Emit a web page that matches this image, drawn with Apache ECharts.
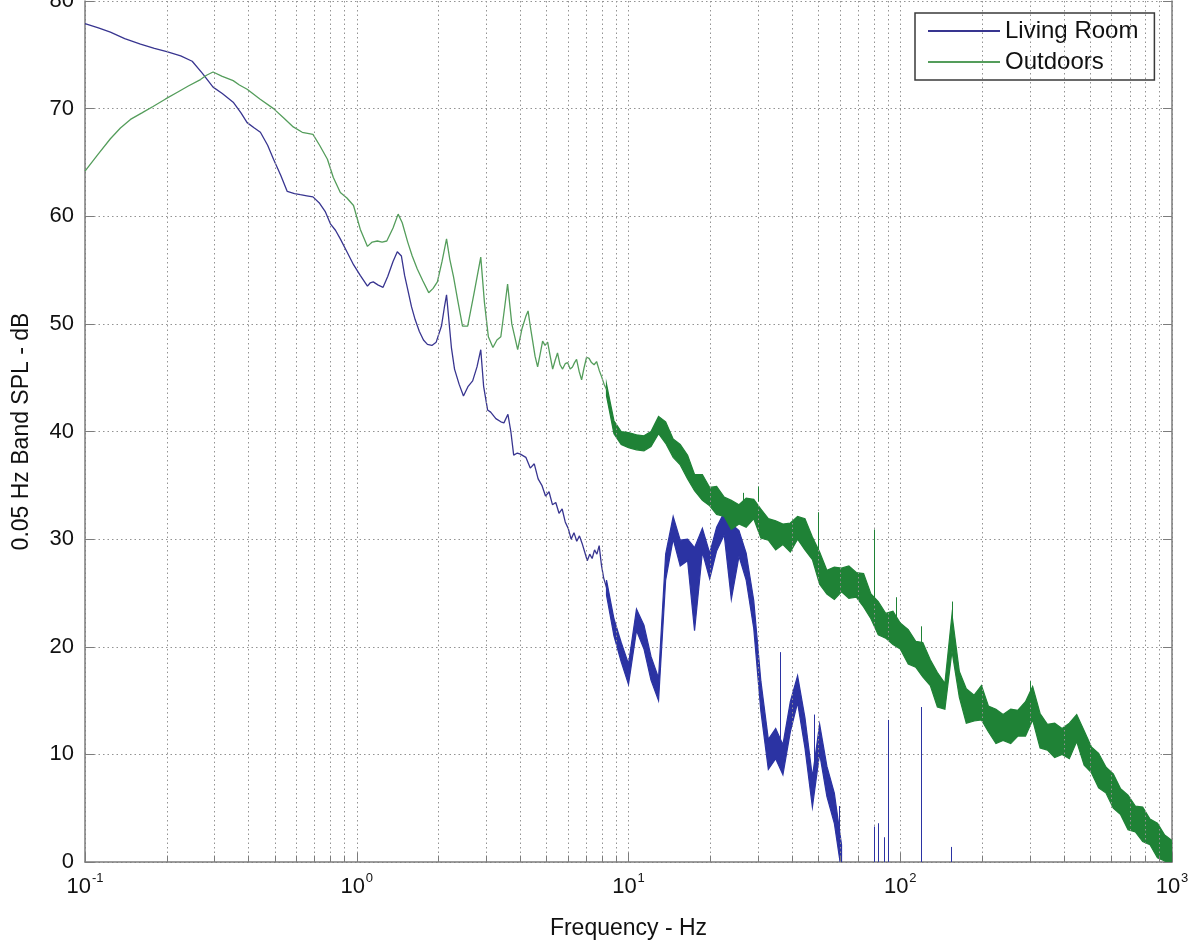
<!DOCTYPE html>
<html>
<head>
<meta charset="utf-8">
<script src="https://cdn.jsdelivr.net/npm/echarts@6/dist/echarts.min.js"></script>
<style>
  html, body { margin: 0; background: #fff; }
  #chart { width: 1191px; height: 942px; }
</style>
</head>
<body>
<div id="chart"></div>
<script>
// low-frequency part drawn as a single line, [Hz, dB]
const livingLow = [
  [0.1,77.9],[0.112,77.5],[0.124,77.1],[0.14,76.5],[0.16,76.0],[0.18,75.6],[0.2,75.3],[0.225,74.9],
  [0.248,74.4],[0.27,73.3],[0.296,72.0],[0.32,71.4],[0.351,70.6],[0.375,69.6],[0.395,68.7],[0.42,68.2],
  [0.442,67.8],[0.47,66.6],[0.494,65.3],[0.525,63.8],[0.555,62.3],[0.59,62.1],[0.62,62.0],[0.655,61.9],
  [0.69,61.8],[0.73,61.2],[0.767,60.4],[0.8,59.3],[0.835,58.7],[0.87,57.9],[0.92,56.7],[0.973,55.5],
  [1.03,54.5],[1.095,53.5],[1.12,53.8],[1.15,53.9],[1.2,53.6],[1.25,53.4],[1.3,54.4],[1.36,55.8],
  [1.41,56.7],[1.46,56.3],[1.5,54.5],[1.54,53.2],[1.59,51.6],[1.64,50.4],[1.7,49.3],[1.76,48.5],
  [1.82,48.1],[1.89,48.0],[1.96,48.3],[2.05,49.8],[2.1,51.5],[2.14,52.7],[2.18,50.5],[2.23,47.8],
  [2.29,45.8],[2.38,44.4],[2.47,43.3],[2.57,44.2],[2.67,44.7],[2.77,46.0],[2.86,47.6],[2.93,44.2],
  [3.03,42.0],[3.11,41.8],[3.25,41.2],[3.39,40.9],[3.48,40.8],[3.6,41.6],[3.69,40.0],[3.78,37.8],
  [3.9,38.0],[4.0,37.9],[4.19,37.6],[4.35,36.6],[4.5,37.0],[4.65,35.6],[4.8,35.0],[4.95,34.0],
  [5.1,34.4],[5.25,33.2],[5.4,33.4],[5.55,32.4],[5.7,32.8],[5.85,31.6],[6.0,31.0],[6.15,30.0],
  [6.3,30.6],[6.45,29.8],[6.6,30.3],[6.75,29.6],[6.9,28.8],[7.05,28.0],[7.2,28.6],[7.35,28.2],
  [7.5,29.0],[7.65,28.6],[7.8,29.4],[7.95,27.6],[8.1,26.4],[8.3,25.5]
];
const outdoorsLow = [
  [0.1,64.2],[0.112,65.8],[0.124,67.2],[0.135,68.2],[0.147,69.0],[0.162,69.6],[0.178,70.2],[0.198,70.9],
  [0.218,71.5],[0.24,72.1],[0.266,72.7],[0.28,73.1],[0.296,73.4],[0.32,73.0],[0.351,72.6],[0.37,72.2],
  [0.395,71.8],[0.44,70.9],[0.494,70.0],[0.54,69.1],[0.584,68.3],[0.63,67.8],[0.69,67.6],[0.73,66.6],
  [0.78,65.3],[0.82,63.6],[0.87,62.2],[0.92,61.7],[0.973,61.0],[1.03,58.8],[1.095,57.2],[1.14,57.6],
  [1.19,57.7],[1.24,57.6],[1.29,57.7],[1.36,58.9],[1.42,60.2],[1.47,59.4],[1.54,57.6],[1.6,56.3],
  [1.67,55.1],[1.75,54.0],[1.84,52.9],[1.91,53.3],[1.98,53.9],[2.06,55.8],[2.14,57.9],[2.2,56.0],
  [2.27,54.4],[2.36,52.0],[2.45,49.8],[2.56,49.8],[2.7,52.8],[2.86,56.2],[2.95,52.0],[3.05,48.8],
  [3.17,47.8],[3.28,48.5],[3.39,48.8],[3.5,51.5],[3.59,53.7],[3.72,50.0],[3.91,47.6],[4.05,49.5],
  [4.19,50.7],[4.27,51.2],[4.35,49.8],[4.44,48.4],[4.53,47.0],[4.63,46.0],[4.73,47.2],[4.83,48.4],
  [4.93,48.0],[5.04,48.3],[5.15,47.0],[5.26,45.8],[5.37,46.6],[5.48,47.3],[5.6,46.2],[5.72,45.8],
  [5.85,46.3],[5.97,46.4],[6.1,45.8],[6.22,46.0],[6.33,46.4],[6.44,46.7],[6.58,45.6],[6.72,44.8],
  [6.86,45.9],[7.01,46.9],[7.16,46.8],[7.31,46.4],[7.47,46.2],[7.63,46.5],[7.8,45.7],[7.96,45.1],
  [8.13,44.4],[8.3,43.9]
];

// noisy part: shared frequency grid (Hz) with lower / upper edge of the band (dB)
const bandFreq = [
  8.30,8.84,9.40,
  10.0,10.7,11.4,12.1,12.9,13.7,14.6,15.5,16.5,17.5,18.7,19.9,21.1,22.5,23.9,25.5,27.1,28.9,30.7,
  32.7,34.8,37.0,39.4,41.9,44.6,47.5,50.5,53.7,57.2,60.8,64.7,68.9,73.3,78.0,83.0,88.4,94.0,
  100,107,114,121,129,137,146,155,165,175,187,199,211,225,239,255,271,289,307,327,348,370,394,
  419,446,475,505,537,572,608,647,689,733,780,830,884,940,1000
];
const livingLo = [
  24.8,21.0,18.6,
  16.5,21.5,19.8,16.9,15.0,26.2,30.0,27.5,28.0,21.5,28.8,26.3,28.9,30.4,24.4,28.4,26.2,21.7,14.0,
  8.6,9.6,8.1,12.1,14.8,10.6,5.1,10.1,6.1,3.6,-0.9
];
const livingHi = [
  26.2,22.6,20.4,
  18.4,23.5,22.0,19.1,17.1,28.6,32.1,29.9,30.0,29.2,31.0,28.7,31.1,32.5,31.4,30.8,28.7,24.3,16.8,
  11.4,12.4,10.9,14.9,17.3,13.4,7.9,12.8,8.9,6.4,1.6
];
const outdoorsLo = [
  43.3,39.8,38.8,
  38.5,38.3,38.2,38.6,39.8,38.9,37.6,36.9,35.6,34.5,33.6,33.1,32.3,32.1,30.9,31.4,31.1,31.9,30.1,
  29.9,29.0,29.5,28.8,30.0,29.0,28.1,25.8,24.9,24.4,25.1,24.5,24.6,23.7,22.6,21.1,20.8,20.2,
  19.8,18.4,18.1,17.2,16.4,14.4,14.2,19.6,15.3,12.9,13.1,13.2,12.1,11.0,11.3,11.0,11.7,11.7,13.2,
  10.6,10.4,9.7,10.0,9.6,11.2,9.0,8.3,6.9,6.4,5.0,4.4,3.0,2.8,1.9,1.6,0.4,0.1,-0.8
];
const outdoorsHi = [
  44.4,41.0,40.0,
  39.9,39.7,39.6,40.0,41.4,40.9,39.3,38.8,37.8,36.0,36.0,34.8,34.9,33.9,33.6,33.2,33.8,33.7,32.8,
  31.9,31.7,31.4,31.5,32.1,31.9,30.2,28.8,27.1,27.4,27.3,27.5,26.9,26.8,24.9,24.2,23.1,23.3,
  22.2,21.6,20.5,20.4,18.8,17.6,16.6,23.0,17.7,16.1,15.5,16.4,14.5,14.2,13.7,14.2,14.1,14.9,16.3,
  13.8,12.8,12.9,12.4,12.9,13.7,12.2,10.7,10.1,8.8,8.2,6.8,6.2,5.2,5.1,4.0,3.6,2.5,2.0
];

// single-sample spikes: [Hz, from dB, to dB]
const livingSpikes = [
  [36.2,10.0,19.5],[48.3,7.0,13.7],[59.5,2.0,5.2],[80.4,0,3.3],[83.2,0,3.6],
  [87.5,0,2.3],[90.5,0,13.2],[119.7,0,14.4],[154.5,0,1.4]
];
const outdoorsSpikes = [
  [26.4,33.0,34.3],[29.9,33.5,34.9],[49.9,29.0,32.5],[80.4,24.0,30.9],
  [96.8,22.0,24.6],[119.7,19.5,21.9],[155.5,22.0,24.2],[301,15.0,16.8]
];

// axis ticks
const decades = [0.1, 1, 10, 100];
const minorSteps = [2, 3, 4, 5, 6, 7, 8, 9];
const minorFreq = decades.flatMap(d => minorSteps.map(m => +(d * m).toPrecision(3)));

const FONT = '"Liberation Sans", Arial, Helvetica, sans-serif';
const LIVING = '#383590';
const LIVING_BAND = '#2b33a3';
const OUTDOORS = '#549d5b';
const OUTDOORS_BAND = '#1f8236';
const GRID_DOT = '#939393';
const AXIS = '#7c7c7c';

// noisy band drawn as a filled polygon between its lower and upper edge
function bandSeries(name, lo, hi, color) {
  const f = bandFreq.slice(0, lo.length);
  return {
    name, type: 'custom', coordinateSystem: 'cartesian2d', clip: true, silent: true,
    color, z: 3,
    data: [[f[0], hi[0]]],
    renderItem: (params, api) => {
      const upper = f.map((x, i) => api.coord([x, hi[i]]));
      const lower = f.map((x, i) => api.coord([x, lo[i]])).reverse();
      return {
        type: 'polygon',
        shape: { points: upper.concat(lower) },
        style: { fill: color, stroke: color, lineWidth: 1.2 }
      };
    }
  };
}

function spikeLines(spikes, color) {
  return {
    silent: true, symbol: ['none', 'none'], animation: false,
    label: { show: false },
    lineStyle: { color, type: 'solid', width: 1 },
    data: spikes.map(([x, a, b]) => [{ coord: [x, a] }, { coord: [x, b] }])
  };
}

const chart = echarts.init(document.getElementById('chart'));
chart.setOption({
  animation: false,
  backgroundColor: '#fff',
  textStyle: { fontFamily: FONT },
  grid: { left: 85, right: 19, top: 1, bottom: 80, outerBoundsMode: 'none', containLabel: false },
  legend: {
    data: ['Living Room', 'Outdoors'],
    orient: 'vertical', left: 915, top: 13,
    padding: [6, 16, 6, 13], itemGap: 7,
    itemWidth: 72, itemHeight: 2, icon: 'rect',
    borderColor: '#3a3a3a', borderWidth: 1.5, backgroundColor: '#fff',
    textStyle: { fontSize: 24, color: '#111', fontFamily: FONT }
  },
  xAxis: {
    type: 'log', logBase: 10, min: 0.1, max: 1000,
    name: 'Frequency - Hz', nameLocation: 'middle', nameGap: 55,
    nameTextStyle: { fontSize: 23, color: '#111', fontFamily: FONT },
    axisLine: { lineStyle: { color: AXIS, width: 1.5 } },
    axisTick: { inside: true, length: 9, lineStyle: { color: AXIS } },
    axisLabel: {
      margin: 10,
      formatter: v => '{b|10}{e|' + Math.round(Math.log10(v)) + '}',
      rich: {
        b: { fontSize: 22, color: '#111', fontFamily: FONT, lineHeight: 26, verticalAlign: 'bottom' },
        e: { fontSize: 13, color: '#111', fontFamily: FONT, lineHeight: 14, verticalAlign: 'top', padding: [0, 0, 0, 1] }
      }
    },
    splitLine: { show: true, lineStyle: { color: GRID_DOT, type: [1.5, 3], width: 1 } }
  },
  yAxis: [
    {
      type: 'value', min: 0, max: 80, interval: 10,
      name: '0.05 Hz Band SPL - dB', nameLocation: 'middle', nameGap: 52,
      nameTextStyle: { fontSize: 23, color: '#111', fontFamily: FONT },
      axisLine: { show: true, lineStyle: { color: AXIS, width: 1.5 } },
      axisTick: { show: true, inside: true, length: 9, lineStyle: { color: AXIS } },
      axisLabel: { fontSize: 22, color: '#111', margin: 11, fontFamily: FONT },
      splitLine: { show: true, lineStyle: { color: GRID_DOT, type: [1.5, 3], width: 1 } }
    },
    {
      type: 'value', min: 0, max: 80, interval: 10, position: 'right',
      axisLine: { show: true, lineStyle: { color: AXIS, width: 1.5 } },
      axisTick: { show: true, inside: true, length: 9, lineStyle: { color: AXIS } },
      axisLabel: { show: false },
      splitLine: { show: false }
    }
  ],
  series: [
    {
      // minor log grid lines and ticks
      type: 'line', data: [], z: 1, silent: true,
      markLine: {
        silent: true, symbol: ['none', 'none'], animation: false,
        label: { show: false },
        data: [
          ...minorFreq.map(f => ({ xAxis: f, lineStyle: { color: GRID_DOT, type: [1.5, 3], width: 1 } })),
          ...minorFreq.map(f => [
            { coord: [f, 0], lineStyle: { color: AXIS, type: 'solid', width: 1 } },
            { coord: [f, 0.6] }
          ])
        ]
      }
    },
    {
      name: 'Living Room', type: 'line', symbol: 'none', color: LIVING,
      lineStyle: { color: LIVING, width: 1.3 }, data: livingLow, z: 3,
      markLine: spikeLines(livingSpikes, LIVING_BAND)
    },
    bandSeries('Living Room', livingLo, livingHi, LIVING_BAND),
    {
      name: 'Outdoors', type: 'line', symbol: 'none', color: OUTDOORS,
      lineStyle: { color: OUTDOORS, width: 1.3 }, data: outdoorsLow, z: 4,
      markLine: spikeLines(outdoorsSpikes, OUTDOORS_BAND)
    },
    bandSeries('Outdoors', outdoorsLo, outdoorsHi, OUTDOORS_BAND)
  ]
});
</script>
</body>
</html>
